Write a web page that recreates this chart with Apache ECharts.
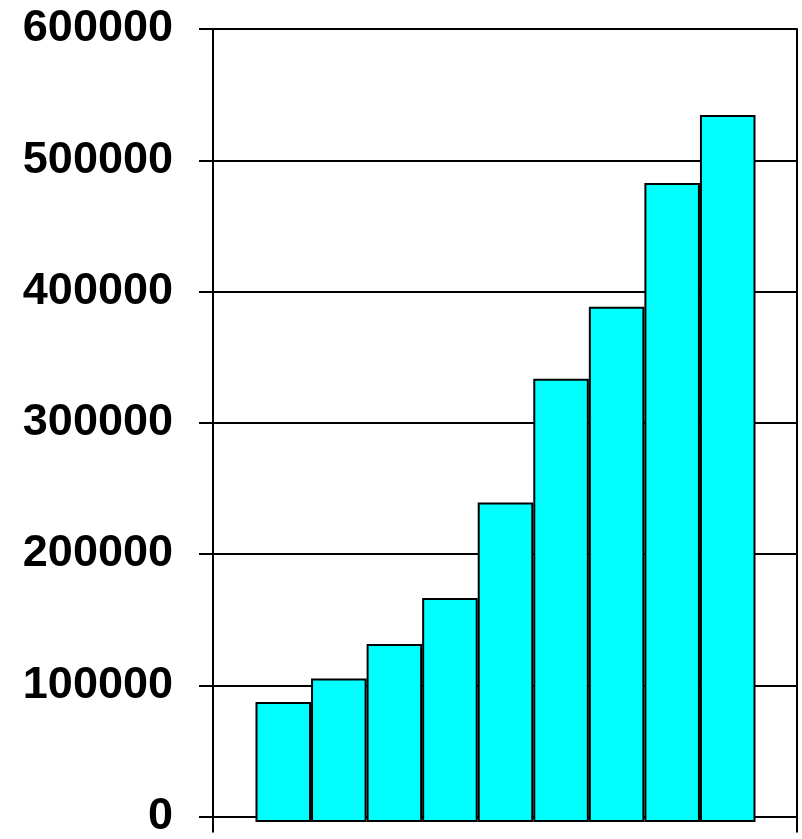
<!DOCTYPE html>
<html>
<head>
<meta charset="utf-8">
<script src="https://cdn.jsdelivr.net/npm/echarts@6/dist/echarts.min.js"></script>
<style>
html,body{margin:0;padding:0;background:#fff;}
#chart{width:802px;height:839px;}
</style>
</head>
<body>
<div id="chart"></div>
<script>
const categories = ['1','2','3','4','5','6','7','8','9'];
const values = [90700, 108500, 134600, 169400, 241700, 335300, 389900, 483500, 535000];
const yTicks = [0, 100000, 200000, 300000, 400000, 500000, 600000];

const yMin = yTicks[0], yMax = yTicks[yTicks.length - 1], yStep = yTicks[1] - yTicks[0];

const chart = echarts.init(document.getElementById('chart'), null, {renderer: 'canvas'});
chart.setOption({
  animation: false,
  backgroundColor: '#ffffff',
  grid: [
    {left: 213, right: 5, top: 29, bottom: 17, containLabel: false},
    {left: 255.5, right: 46.5, top: 29, bottom: 17, containLabel: false}
  ],
  xAxis: [
    {
      gridIndex: 0, type: 'value', min: 0, max: 1, interval: 1,
      axisLine: {show: true, lineStyle: {color: '#000', width: 2}},
      axisTick: {show: true, length: 16, lineStyle: {color: '#000', width: 2}},
      axisLabel: {show: false},
      splitLine: {show: false}
    },
    {
      gridIndex: 1, type: 'category', data: categories,
      axisLine: {show: false}, axisTick: {show: false}, axisLabel: {show: false},
      splitLine: {show: false}
    }
  ],
  yAxis: [
    {
      gridIndex: 0, type: 'value', min: yMin, max: yMax, interval: yStep,
      axisLine: {show: true, lineStyle: {color: '#000', width: 2}},
      axisTick: {show: true, length: 14, lineStyle: {color: '#000', width: 2}},
      axisLabel: {
        show: true, margin: 40, color: '#000',
        fontFamily: 'Liberation Sans, Arial, sans-serif', fontWeight: 'bold', fontSize: 45,
        formatter: function (v) { return String(v); }
      },
      splitLine: {show: true, lineStyle: {color: '#000', width: 2}}
    },
    {
      gridIndex: 0, type: 'value', position: 'right', min: yMin, max: yMax, interval: yStep,
      axisLine: {show: true, lineStyle: {color: '#000', width: 2}},
      axisTick: {show: false}, axisLabel: {show: false}, splitLine: {show: false}
    },
    {
      gridIndex: 1, type: 'value', min: yMin, max: yMax, interval: yStep,
      axisLine: {show: false}, axisTick: {show: false}, axisLabel: {show: false},
      splitLine: {show: false}
    }
  ],
  series: [
    {
      type: 'bar', xAxisIndex: 1, yAxisIndex: 2, data: values,
      barCategoryGap: '0%',
      itemStyle: {color: '#00ffff', borderColor: '#000', borderWidth: 2}
    }
  ]
});
</script>
</body>
</html>
